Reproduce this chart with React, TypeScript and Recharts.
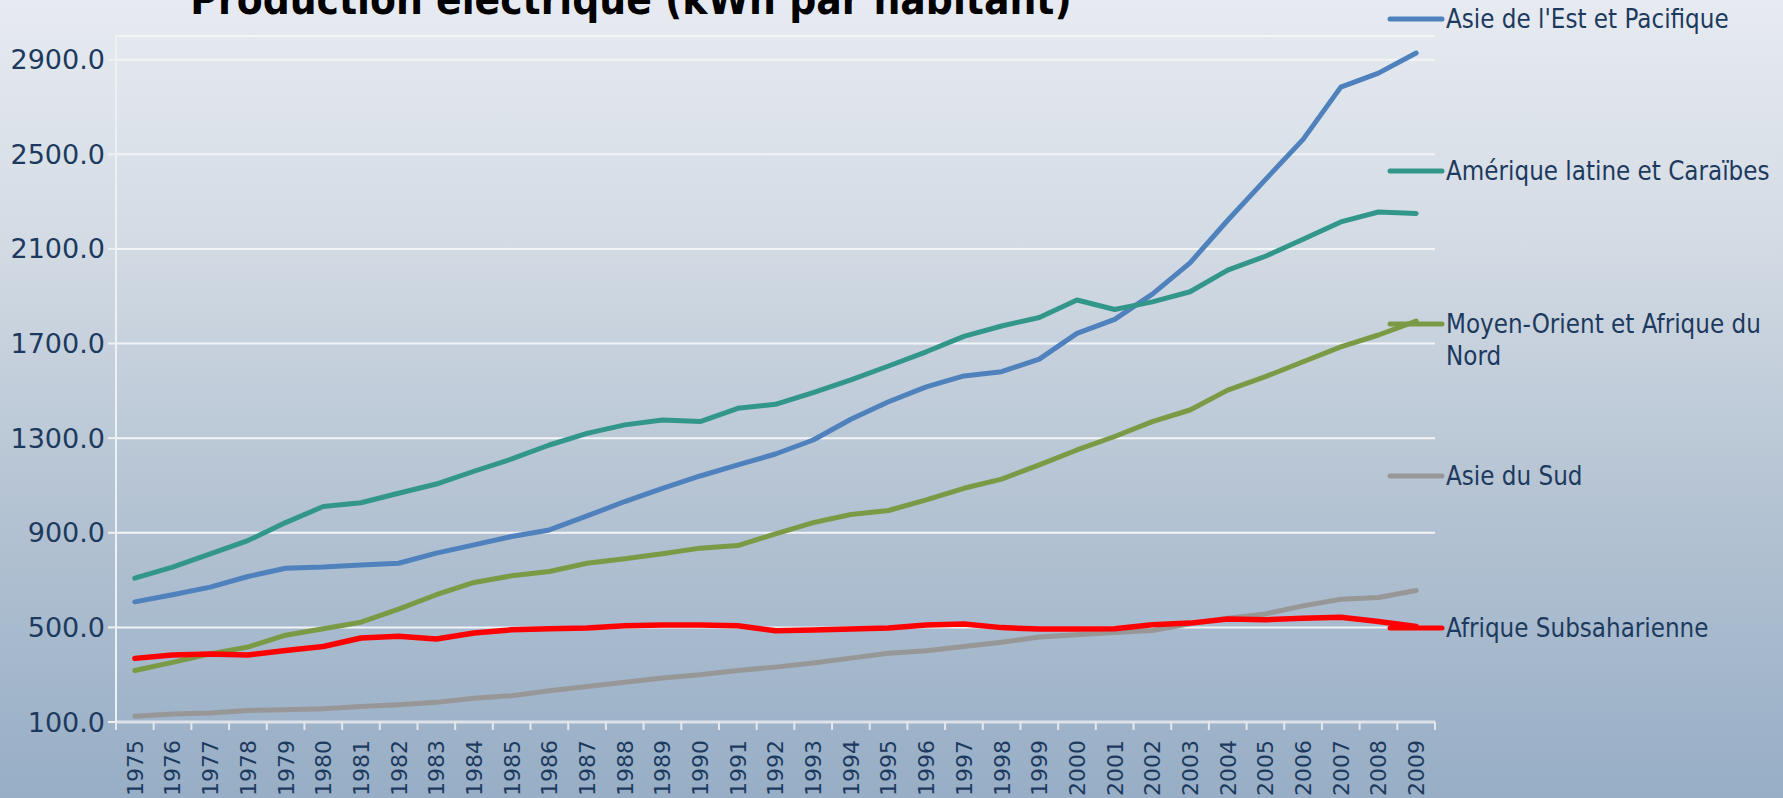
import React from 'react';
import { LineChart, Line, XAxis, YAxis, CartesianGrid, Legend } from 'recharts';

const YEARS = [1975,1976,1977,1978,1979,1980,1981,1982,1983,1984,1985,1986,1987,1988,1989,1990,1991,1992,1993,1994,1995,1996,1997,1998,1999,2000,2001,2002,2003,2004,2005,2006,2007,2008,2009];

const EAST_ASIA = [608,638,670,715,750,755,764,771,814,849,884,912,971,1032,1088,1140,1187,1233,1292,1380,1454,1517,1563,1581,1634,1743,1802,1909,2041,2221,2393,2563,2784,2843,2928];
const LATIN_AMERICA = [708,755,811,867,943,1011,1027,1067,1106,1160,1212,1271,1320,1356,1377,1370,1426,1443,1492,1546,1605,1665,1730,1774,1810,1884,1844,1876,1919,2010,2069,2141,2214,2256,2250];
const MENA = [318,352,388,417,467,494,522,577,638,690,718,736,771,790,811,835,846,895,943,977,994,1039,1088,1127,1187,1250,1307,1370,1419,1503,1560,1623,1686,1736,1795];
const SOUTH_ASIA = [124,134,138,149,152,156,166,173,183,200,211,232,250,268,286,300,318,332,349,370,391,401,419,437,459,469,478,487,515,539,557,591,619,626,656];
const SUB_SAHARAN = [369,383,387,383,402,419,455,462,451,476,490,494,497,507,510,510,507,486,489,493,497,510,514,499,493,493,494,511,518,535,532,539,543,525,504];

const SERIES_NAMES = ["Asie de l'Est et Pacifique", 'Amérique latine et Caraïbes', 'Moyen-Orient et Afrique du Nord', 'Asie du Sud', 'Afrique Subsaharienne'];
const SERIES_KEYS = ['east', 'latam', 'mena', 'south', 'ssa'];
const SERIES_COLORS = ['#4F81BD', '#32978A', '#7B9A45', '#979797', '#FF0000'];
const SERIES_VALUES = [EAST_ASIA, LATIN_AMERICA, MENA, SOUTH_ASIA, SUB_SAHARAN];

const Y_TICKS = [100, 500, 900, 1300, 1700, 2100, 2500, 2900];
const Y_DOMAIN = [100, 3000];
const TITLE = 'Production électrique (kWh par habitant)';

const data = YEARS.map((y, i) => {
  const row: any = { year: String(y) };
  SERIES_KEYS.forEach((k, j) => { row[k] = SERIES_VALUES[j][i]; });
  return row;
});

const W = 1783;
const H = 798;
const M_LEFT = 0;
const Y_W = 116;
const M_RIGHT = 348;
const M_TOP = 36;
const X_H = 76;
const PLOT_W = W - M_LEFT - Y_W - M_RIGHT;
const BW = PLOT_W / YEARS.length;
const FONT_C = "'DejaVu Sans Condensed', 'DejaVu Sans', sans-serif";
const FONT = "'DejaVu Sans', sans-serif";
const TEXT_COLOR = '#1D3A5E';
const TICK_SIZE = 8;
const TICK_MARGIN = 10;

const XTick = (props: any) => {
  const { x, y, payload, index } = props;
  const axisY = y - TICK_SIZE - TICK_MARGIN;
  const last = index === YEARS.length - 1;
  return (
    <g>
      <line x1={x - BW / 2} x2={x - BW / 2} y1={axisY} y2={axisY + TICK_SIZE} stroke="#E4E8EC" strokeWidth={2} />
      {last && <line x1={x + BW / 2} x2={x + BW / 2} y1={axisY} y2={axisY + TICK_SIZE} stroke="#E4E8EC" strokeWidth={2} />}
      <text
        transform={`translate(${x},${y}) rotate(-90)`}
        textAnchor="end"
        dy="0.36em"
        fill={TEXT_COLOR}
        fontSize={22}
        fontFamily={FONT}
      >
        {payload.value}
      </text>
    </g>
  );
};

const LEGEND_X = 1387;
const LEGEND_Y0 = 19;
const LEGEND_STEP = 152.3;

const LegendBox = () => {
  return (
    <div style={{ position: 'relative', width: 0, height: 0 }}>
      {SERIES_NAMES.map((name, i) => {
        const cy = LEGEND_Y0 + i * LEGEND_STEP;
        return (
          <div key={i} style={{ position: 'absolute', left: LEGEND_X, top: cy - 16, width: W - LEGEND_X, height: 0 }}>
            <svg width={58} height={32} style={{ position: 'absolute', left: 0, top: 0, overflow: 'visible' }}>
              <line x1={3} x2={55} y1={16} y2={16} stroke={SERIES_COLORS[i]} strokeWidth={5} strokeLinecap="round" />
            </svg>
            <div
              style={{
                position: 'absolute',
                left: 59,
                top: 0,
                width: W - LEGEND_X - 59 - 4,
                fontFamily: FONT_C,
                fontSize: 25.7,
                lineHeight: '32px',
                color: TEXT_COLOR,
                whiteSpace: 'normal',
              }}
            >
              {name}
            </div>
          </div>
        );
      })}
    </div>
  );
};

export default function App() {
  return (
    <div
      style={{
        position: 'absolute',
        top: 0,
        left: 0,
        width: W,
        height: H,
        overflow: 'hidden',
        background: 'linear-gradient(to bottom, #E7EBF1 0%, #D3DBE4 30%, #B7C5D4 60%, #97AEC6 100%)',
      }}
    >
      <LineChart width={W} height={H} data={data} margin={{ top: M_TOP, right: M_RIGHT, bottom: 0, left: M_LEFT }}>
        <CartesianGrid vertical={false} stroke="#F2F4F6" strokeWidth={2} />
        <XAxis
          dataKey="year"
          interval={0}
          padding={{ left: BW / 2, right: BW / 2 }}
          height={X_H}
          tickSize={TICK_SIZE}
          tickMargin={TICK_MARGIN}
          tickLine={false}
          axisLine={{ stroke: '#DDE2E8', strokeWidth: 3 }}
          tick={<XTick />}
        />
        <YAxis
          domain={Y_DOMAIN}
          ticks={Y_TICKS}
          allowDataOverflow
          width={Y_W}
          tickSize={8}
          tickMargin={3}
          tickFormatter={(v: number) => v.toFixed(1)}
          axisLine={{ stroke: '#EEF1F4', strokeWidth: 2 }}
          tickLine={{ stroke: '#EEF1F4', strokeWidth: 2 }}
          tick={{ fill: TEXT_COLOR, fontSize: 27, fontFamily: FONT }}
        />
        <Legend
          verticalAlign="top"
          align="left"
          wrapperStyle={{ position: 'absolute', top: 0, left: 0, width: 0, height: 0, overflow: 'visible' }}
          content={() => <LegendBox />}
        />
        {SERIES_KEYS.map((k, j) => (
          <Line
            key={k}
            type="linear"
            dataKey={k}
            name={SERIES_NAMES[j]}
            stroke={SERIES_COLORS[j]}
            strokeWidth={j === 4 ? 5.5 : 5}
            strokeLinecap="round"
            strokeLinejoin="round"
            dot={false}
            activeDot={false}
            isAnimationActive={false}
          />
        ))}
      </LineChart>
      <svg width={W} height={60} style={{ position: 'absolute', top: 0, left: 0, pointerEvents: 'none' }}>
        <text x={631} y={14} textAnchor="middle" fontFamily={FONT_C} fontWeight="bold" fontSize={42} fill="#000">
          {TITLE}
        </text>
      </svg>
    </div>
  );
}
